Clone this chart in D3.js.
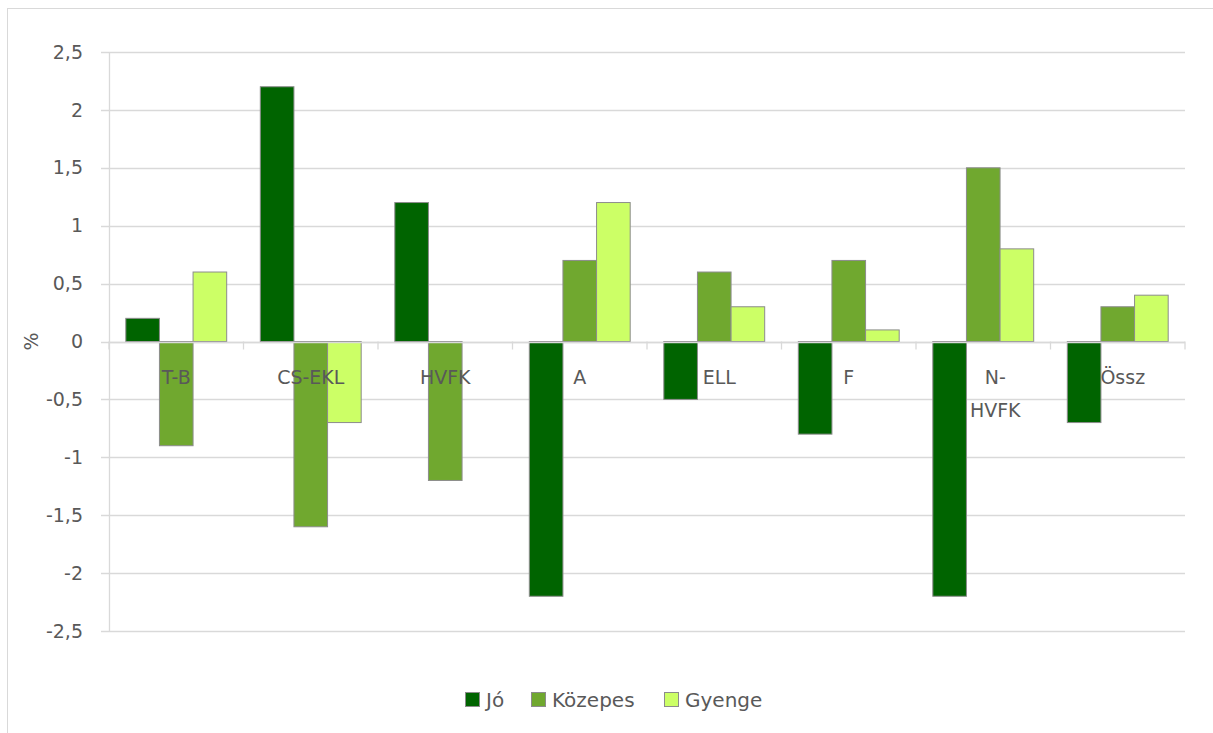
<!DOCTYPE html>
<html>
<head>
<meta charset="utf-8">
<script src="https://cdn.jsdelivr.net/npm/d3@7"></script>
<style>
  body { margin: 0; background: #fff; }
  text { font-family: "DejaVu Sans", "Open Sans", sans-serif; fill: #595959; }
</style>
</head>
<body>
<div id="chart"></div>
<script>
const categories = ["T-B", "CS-EKL", "HVFK", "A", "ELL", "F", "N-HVFK", "Össz"]
const series = ["Jó", "Közepes", "Gyenge"]
const joValues = [0.2, 2.2, 1.2, -2.2, -0.5, -0.8, -2.2, -0.7]
const kozepesValues = [-0.9, -1.6, -1.2, 0.7, 0.6, 0.7, 1.5, 0.3]
const gyengeValues = [0.6, -0.7, 0, 1.2, 0.3, 0.1, 0.8, 0.4]
const yTicks = [-2.5, -2, -1.5, -1, -0.5, 0, 0.5, 1, 1.5, 2, 2.5]
const colors = ["#006400", "#70A82F", "#CCFF66"]

const width = 1213
const height = 733
const margins = { top: 52, right: 28, bottom: 102, left: 109 }

const svg = d3.select("#chart")
    .append("svg")
    .attr("width", width)
    .attr("height", height)

// outer chart frame
svg.append("rect")
    .attr("x", 7.5)
    .attr("y", 8.5)
    .attr("width", 1210)
    .attr("height", 740)
    .style("fill", "none")
    .style("stroke", "#d9d9d9")

const x = d3.scaleBand()
    .domain(categories)
    .range([margins.left, width - margins.right])
    .padding(0)
const y = d3.scaleLinear()
    .domain([-2.5, 2.5])
    .range([height - margins.bottom, margins.top])

const fmt = d => String(d).replace(".", ",")

// gridlines
svg.selectAll(".grid")
    .data(yTicks)
    .enter()
    .append("line")
    .attr("class", "grid")
    .attr("x1", margins.left - 8)
    .attr("x2", width - margins.right)
    .attr("y1", d => Math.round(y(d)) + 0.5)
    .attr("y2", d => Math.round(y(d)) + 0.5)
    .style("stroke", "#d9d9d9")
    .style("stroke-width", 1.3)

svg.append("line")
    .attr("x1", margins.left + 0.5)
    .attr("x2", margins.left + 0.5)
    .attr("y1", y(2.5))
    .attr("y2", y(-2.5))
    .style("stroke", "#d9d9d9")
    .style("stroke-width", 1.3)

svg.selectAll(".ytick")
    .data(yTicks)
    .enter()
    .append("text")
    .attr("class", "ytick")
    .text(d => fmt(d))
    .attr("x", 83)
    .attr("y", d => y(d))
    .attr("dy", "0.35em")
    .attr("text-anchor", "end")
    .style("font-size", "19px")

svg.append("text")
    .text("%")
    .attr("transform", `translate(31, ${y(0)}) rotate(-90)`)
    .attr("text-anchor", "middle")
    .attr("dy", "0.35em")
    .style("font-size", "19px")

// bars
const allValues = [joValues, kozepesValues, gyengeValues]
const bw = x.bandwidth()
const barW = bw * 0.25
allValues.forEach((vals, si) => {
    svg.selectAll(".bar-" + si)
        .data(vals.map((v, i) => ({ cat: categories[i], v: v })).filter(d => d.v !== 0))
        .enter()
        .append("rect")
        .attr("class", "bar-" + si)
        .attr("x", d => x(d.cat) + bw * 0.125 + si * barW)
        .attr("width", barW)
        .attr("y", d => y(Math.max(0, d.v)))
        .attr("height", d => Math.abs(y(d.v) - y(0)))
        .style("fill", colors[si])
        .style("stroke", "#8c8c8c")
        .style("stroke-width", 1)
})

// category axis at zero with tick marks
svg.append("line")
    .attr("x1", margins.left)
    .attr("x2", width - margins.right)
    .attr("y1", Math.round(y(0)) + 0.5)
    .attr("y2", Math.round(y(0)) + 0.5)
    .style("stroke", "#d9d9d9")
    .style("stroke-width", 1.3)
svg.selectAll(".xtick")
    .data(categories.concat(["end"]))
    .enter()
    .append("line")
    .attr("class", "xtick")
    .attr("x1", (d, i) => margins.left + i * bw)
    .attr("x2", (d, i) => margins.left + i * bw)
    .attr("y1", y(0))
    .attr("y2", y(0) + 8)
    .style("stroke", "#d9d9d9")
    .style("stroke-width", 1.3)

// wrapped / nudged category labels
const labelLines = { "N-HVFK": ["N-", "HVFK"] }
const labelNudge = { "N-HVFK": 12, "ELL": 5, "Össz": 5 }
categories.forEach(c => {
    const lines = labelLines[c] || [c]
    const t = svg.append("text")
        .attr("text-anchor", "middle")
        .style("font-size", "19px")
    lines.forEach((l, li) => {
        t.append("tspan")
            .text(l)
            .attr("x", x(c) + bw / 2 + (labelNudge[c] || 0))
            .attr("y", y(0) + 42 + li * 33)
    })
})

// legend
const legendItems = [
    { name: series[0], x: 465 },
    { name: series[1], x: 531 },
    { name: series[2], x: 664 }
]
const legendY = 700
legendItems.forEach((d, i) => {
    svg.append("rect")
        .attr("x", d.x + 0.5)
        .attr("y", legendY - 7.5)
        .attr("width", 14)
        .attr("height", 14)
        .style("fill", colors[i])
        .style("stroke", "#8c8c8c")
    svg.append("text")
        .text(d.name)
        .attr("x", d.x + 21)
        .attr("y", legendY)
        .attr("dy", "0.35em")
        .style("font-size", "20px")
})
</script>
</body>
</html>
